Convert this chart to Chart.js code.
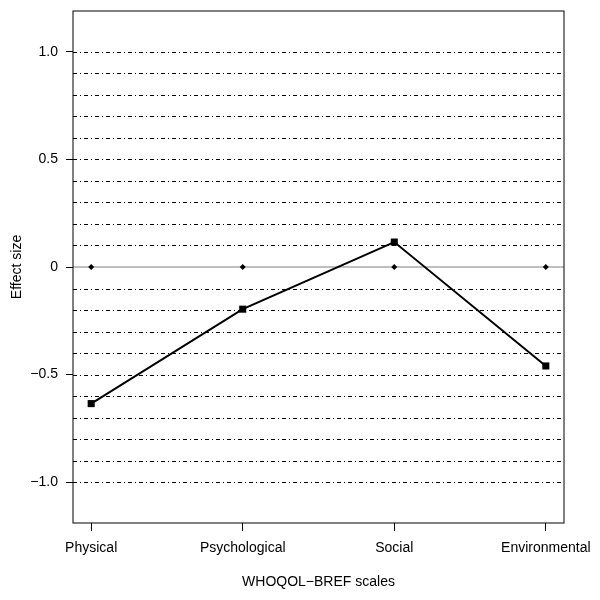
<!DOCTYPE html>
<html>
<head>
<meta charset="utf-8">
<script src="https://cdn.jsdelivr.net/npm/chart.js@4"></script>
<style>
  html, body { margin: 0; padding: 0; background: #fff; }
  #wrap { width: 600px; height: 600px; }
</style>
</head>
<body>
<div id="wrap"><canvas id="myChart" width="600" height="600"></canvas></div>
<script>
// WHOQOL-BREF effect sizes
const scales = ['Physical', 'Psychological', 'Social', 'Environmental']
const effectSize = [-0.635, -0.196, 0.116, -0.46]
const zeroMarks = [0, 0, 0, 0]
const refLevels = [-1.0, -0.9, -0.8, -0.7, -0.6, -0.5, -0.4, -0.3, -0.2, -0.1,
  0.1, 0.2, 0.3, 0.4, 0.5, 0.6, 0.7, 0.8, 0.9, 1.0]
const yTickLabels = { '-1': '\u22121.0', '-0.5': '\u22120.5', '0': '0', '0.5': '0.5', '1': '1.0' }

const font = { family: 'Liberation Sans, Arial, sans-serif', size: 14 }

// dot-dash reference lines plus the grey zero line, drawn behind the data
const refLines = {
  id: 'refLines',
  beforeDatasetsDraw (chart) {
    const { ctx, chartArea, scales: { y } } = chart
    ctx.save()
    ctx.lineWidth = 1
    ctx.strokeStyle = '#000'
    ctx.setLineDash([4, 3, 1, 3])
    refLevels.forEach(v => {
      const py = Math.round(y.getPixelForValue(v)) + 0.5
      ctx.beginPath()
      ctx.moveTo(chartArea.left, py)
      ctx.lineTo(chartArea.right, py)
      ctx.stroke()
    })
    ctx.setLineDash([])
    ctx.strokeStyle = '#aaaaaa'
    ctx.lineWidth = 1.5
    const p0 = y.getPixelForValue(0)
    ctx.beginPath()
    ctx.moveTo(chartArea.left, p0)
    ctx.lineTo(chartArea.right, p0)
    ctx.stroke()
    ctx.restore()
  },
  afterDraw (chart) {
    const { ctx, chartArea } = chart
    ctx.save()
    ctx.strokeStyle = '#000'
    ctx.lineWidth = 1
    ctx.strokeRect(chartArea.left, chartArea.top, chartArea.right - chartArea.left, chartArea.bottom - chartArea.top)
    ctx.restore()
  }
}

const ctx = document.getElementById('myChart')
const myChart = new Chart(ctx, {
  type: 'line',
  data: {
    datasets: [
      {
        data: effectSize.map((v, i) => ({ x: i, y: v })),
        borderColor: '#000',
        backgroundColor: '#000',
        borderWidth: 2,
        pointStyle: 'rect',
        pointRadius: 5,
        pointBorderWidth: 0,
        tension: 0
      },
      {
        data: zeroMarks.map((v, i) => ({ x: i, y: v })),
        showLine: false,
        backgroundColor: '#000',
        borderColor: '#000',
        pointStyle: 'rectRot',
        pointRadius: 3,
        pointBorderWidth: 0
      }
    ]
  },
  options: {
    responsive: false,
    animation: false,
    layout: { padding: { top: 11, right: 36, left: 0, bottom: 0 } },
    plugins: { legend: { display: false }, tooltip: { enabled: false } },
    scales: {
      x: {
        type: 'linear',
        min: -0.12,
        max: 3.12,
        afterFit: s => { s.height = 77; s.paddingLeft = 0; s.paddingRight = 0 },
        border: { display: false },
        grid: { drawOnChartArea: false, tickLength: 8, tickColor: '#000', tickWidth: 1 },
        ticks: {
          stepSize: 1,
          includeBounds: false,
          autoSkip: false,
          maxRotation: 0,
          padding: 9,
          color: '#000',
          font: font,
          callback: v => scales[v]
        },
        title: { display: true, text: 'WHOQOL\u2212BREF scales', color: '#000', font: font, padding: { top: 0, bottom: 9.6 } }
      },
      y: {
        min: -1.19,
        max: 1.19,
        afterFit: s => { s.width = 73; s.paddingTop = 0; s.paddingBottom = 0 },
        border: { display: false },
        grid: { drawOnChartArea: false, tickLength: 7, tickColor: '#000', tickWidth: 1 },
        ticks: {
          stepSize: 0.5,
          includeBounds: false,
          padding: 8,
          color: '#000',
          font: font,
          callback: v => yTickLabels[String(Math.round(v * 10) / 10)]
        },
        title: { display: true, text: 'Effect size', color: '#000', font: font, padding: { top: 8.6, bottom: 0 } }
      }
    }
  },
  plugins: [refLines]
})
</script>
</body>
</html>
